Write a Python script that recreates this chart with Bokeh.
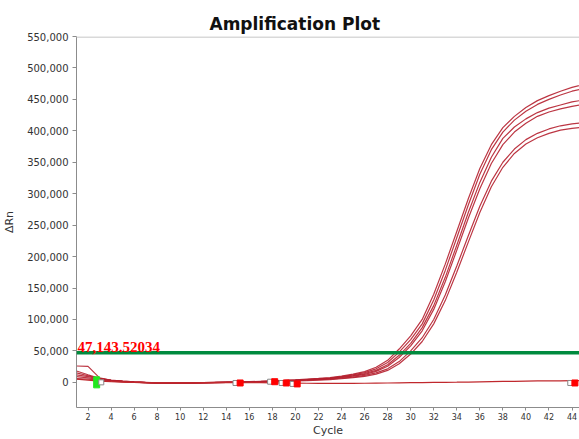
from bokeh.plotting import figure
from bokeh.models import Span, Label, NumeralTickFormatter, Range1d
from bokeh.embed import file_html
from bokeh.resources import INLINE

cycles = list(range(1, 46))

curve_a = [18000, 12000, 6500, 3500, 2000, 800, 0, -800, -1000, -1000, -800, -500, -200, 200, 600,
           1100, 1700, 2400, 3200, 4100, 5100, 6200, 7500, 10000, 13000, 17000, 24000, 35000, 53000, 74000,
           100000, 140000, 188000, 240000, 292000, 340000, 378000, 405000, 423000, 437000, 448000, 456000, 463000, 469000, 474000]
curve_b = [15000, 10500, 6000, 3200, 1800, 600, -200, -900, -1100, -1000, -800, -500, -200, 100, 500,
           900, 1400, 2000, 2800, 3600, 4500, 5500, 6700, 9200, 11800, 15500, 21500, 31500, 48000, 68000,
           93000, 131000, 178000, 230000, 282000, 331000, 370000, 398000, 417000, 431000, 442000, 450000, 457000, 463000, 467000]
curve_c = [26000, 25500, 7000, 3000, 1500, 500, -300, -900, -1000, -900, -700, -400, -100, 200, 500,
           900, 1300, 1900, 2600, 3400, 4200, 5200, 6300, 8400, 10800, 14000, 19000, 28000, 43000, 62000,
           87000, 122000, 167000, 218000, 270000, 318000, 358000, 388000, 406000, 419000, 429000, 436000, 441000, 446000, 449000]
curve_d = [12000, 9000, 5500, 3000, 1500, 400, -400, -1000, -1200, -1100, -900, -600, -300, 0, 400,
           800, 1200, 1700, 2300, 3000, 3800, 4700, 5800, 7700, 9800, 12800, 17500, 25500, 39500, 58000,
           82000, 116000, 160000, 210000, 261000, 308000, 348000, 378000, 398000, 412000, 423000, 430000, 435000, 439000, 442000]
curve_e = [9000, 7000, 4500, 2500, 1200, 300, -500, -1100, -1300, -1200, -1000, -700, -400, -100, 200,
           600, 1000, 1500, 2000, 2600, 3300, 4100, 5000, 6600, 8400, 11000, 15000, 21500, 33000, 50000,
           71000, 100000, 139000, 185000, 233000, 280000, 320000, 350000, 371000, 386000, 396000, 403000, 408000, 411000, 413000]
curve_f = [6000, 5000, 3500, 2000, 900, 100, -600, -1200, -1400, -1300, -1100, -800, -500, -200, 100,
           400, 800, 1200, 1700, 2200, 2800, 3500, 4300, 5800, 7400, 9600, 13000, 19000, 29500, 45000,
           65000, 93000, 130000, 175000, 223000, 270000, 311000, 342000, 364000, 379000, 389000, 396000, 401000, 404000, 406000]
curve_neg = [5000, 3500, 2000, 1000, 500, 0, -500, -800, -900, -900, -800, -600, -500, -400, -400,
             -500, -600, -800, -1000, -1200, -1400, -1500, -1600, -1600, -1500, -1400, -1200, -1000, -800, -600,
             -400, -200, 0, 200, 500, 800, 1100, 1400, 1700, 2000, 2200, 2400, 2500, 2600, 2700]

threshold = 47143.52034

start_marker_x = [2.75]
start_marker_y = [0]
gray_marker_x = [3.15, 14.8, 17.8, 18.8, 19.75, 43.85]
gray_marker_y = [0, -1000, 1000, -1000, -2500, -1000]
red_marker_x = [15.2, 18.2, 19.2, 20.15, 44.25]
red_marker_y = [-1000, 1000, -1000, -2500, -1000]

x_ticks = list(range(2, 45, 2))
y_ticks = list(range(0, 550001, 50000))
x_start, x_end = 1, 44.65
y_start, y_end = -40000, 550000

p = figure(width=579, height=439, output_backend="svg", toolbar_location=None,
           x_range=Range1d(x_start, x_end), y_range=Range1d(y_start, y_end),
           min_border_left=76, min_border_right=0, min_border_top=36, min_border_bottom=29)

p.title.text = "Amplification Plot"
p.title.text_font = "DejaVu Sans"
p.title.text_font_size = "17px"
p.title.text_font_style = "bold"
p.title.text_color = "#111111"
p.title.align = "left"
p.title.offset = 133
p.title.standoff = 5

p.outline_line_color = None
p.xgrid.visible = False
p.ygrid.visible = False
p.background_fill_color = "white"
p.border_fill_color = "white"

for ax in (p.xaxis[0], p.yaxis[0]):
    ax.axis_line_color = "#8c8c8c"
    ax.major_tick_line_color = "#8c8c8c"
    ax.minor_tick_line_color = None
    ax.major_tick_in = 0
    ax.major_label_text_color = "#333333"
    ax.major_label_text_font = "DejaVu Sans"
    ax.axis_label_text_font = "DejaVu Sans"
    ax.axis_label_text_font_style = "normal"
    ax.axis_label_text_color = "#333333"

p.xaxis.ticker = x_ticks
p.xaxis.major_tick_out = 3
p.xaxis.major_label_text_font_size = "8px"
p.xaxis.major_label_standoff = 2
p.xaxis.axis_label = "Cycle"
p.xaxis.axis_label_text_font_size = "11px"
p.xaxis.axis_label_standoff = 1

p.yaxis.ticker = y_ticks
p.yaxis.formatter = NumeralTickFormatter(format="0,0")
p.yaxis.major_tick_out = 4
p.yaxis.major_label_text_font_size = "10px"
p.yaxis.major_label_standoff = 4
p.yaxis.axis_label = "ΔRn"
p.yaxis.axis_label_text_font_size = "11px"
p.yaxis.axis_label_standoff = 8

p.add_layout(Span(location=y_end, dimension="width", line_color="#d9d9d9", line_width=3))

curve_color = "#b5202f"
for c in (curve_a, curve_b, curve_c, curve_d, curve_e, curve_f):
    p.line(cycles, c, line_color=curve_color, line_width=1.2, line_alpha=0.9)
p.line(cycles, curve_neg, line_color="#c0282d", line_width=1.2)

p.add_layout(Span(location=threshold, dimension="width", line_color="#008a3e", line_width=3.5))
p.add_layout(Label(x=x_start, y=threshold, text=f"{threshold:,.5f}", y_offset=1, x_offset=1,
                   text_font="Liberation Serif", text_font_style="bold",
                   text_font_size="15px", text_color="#ff0000"))

p.rect(start_marker_x, start_marker_y, width=6, height=11, width_units="screen",
       height_units="screen", fill_color="#22e61f", line_color="#22e61f")
p.scatter(gray_marker_x, gray_marker_y, marker="square", size=5,
          fill_color="white", line_color="#888888", line_width=1)
p.scatter(red_marker_x, red_marker_y, marker="square", size=6,
          fill_color="#ff0000", line_color="#ff0000")

open("out.html", "w").write(file_html(p, INLINE))
